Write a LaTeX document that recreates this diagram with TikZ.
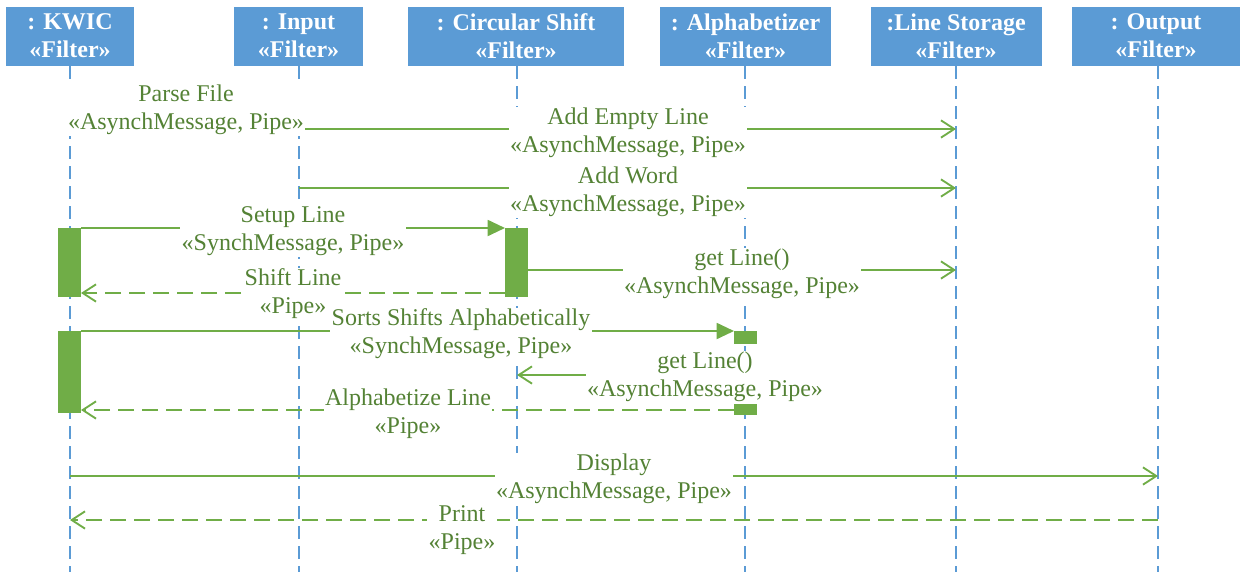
\documentclass[tikz,border=0pt]{standalone}
\usepackage{fontspec}
\setmainfont{Liberation Serif}
\usetikzlibrary{arrows.meta}

\definecolor{headblue}{HTML}{5B9BD5}
\definecolor{msggreen}{HTML}{70AD47}
\definecolor{txtgreen}{HTML}{548235}

\tikzset{
  head/.style={rectangle, fill=headblue, text=white, align=center,
    minimum height=44.25pt, inner sep=0pt, font=\bfseries\fontsize{18}{21}\selectfont},
  lifeline/.style={headblue, line width=1.1pt, dash pattern=on 10pt off 5pt},
  async/.style={msggreen, line width=1.4pt,
    -{Straight Barb[length=10pt,width=13pt,line width=1.4pt]}},
  sync/.style={msggreen, line width=1.4pt, -{Triangle[length=13pt,width=12pt]}},
  reply/.style={async, dash pattern=on 12pt off 6pt},
  msg/.style={fill=white, text=txtgreen, align=center, inner sep=1pt,
    font=\fontsize{18}{21}\selectfont},
  actbar/.style={rectangle, fill=msggreen, minimum width=17.25pt, inner sep=0pt}
}

\begin{document}
\begin{tikzpicture}[x=0.75pt,y=-0.75pt]
    \useasboundingbox (0,0) rectangle (1242,572);

    % Define lifeline heads
    \node[head, minimum width=96pt]     (kwic)   at (70,36)    {: KWIC\\«Filter»};
    \node[head, minimum width=96.75pt]  (input)  at (298.5,36) {: Input\\«Filter»};
    \node[head, minimum width=162pt]    (cshift) at (516,36)   {: Circular Shift\\«Filter»};
    \node[head, minimum width=128.25pt] (alpha)  at (745.5,36) {: Alphabetizer\\«Filter»};
    \node[head, minimum width=128.25pt] (lstore) at (956,36)   {:Line Storage\\«Filter»};
    \node[head, minimum width=126pt]    (output) at (1156,36)  {: Output\\«Filter»};

    % Draw lifelines
    \coordinate (kwicE)   at (70,572);
    \coordinate (inputE)  at (299,572);
    \coordinate (cshiftE) at (517,572);
    \coordinate (alphaE)  at (745,572);
    \coordinate (lstoreE) at (956,572);
    \coordinate (outputE) at (1158,572);
    \draw[lifeline] (70,66) -- (kwicE);
    \draw[lifeline] (299,66) -- (inputE);
    \draw[lifeline] (517,66) -- (cshiftE);
    \draw[lifeline] (745,66) -- (alphaE);
    \draw[lifeline] (956,66) -- (lstoreE);
    \draw[lifeline] (1158,66) -- (outputE);

    % Define message end points
    \coordinate (ae1) at (299,129);  \coordinate (ae2) at (956,129);
    \coordinate (aw1) at (299,188);  \coordinate (aw2) at (956,188);
    \coordinate (su1) at (81,228);   \coordinate (su2) at (505,228);
    \coordinate (gl1) at (528,270);  \coordinate (gl2) at (956,270);
    \coordinate (sl1) at (505,293);  \coordinate (sl2) at (81,293);
    \coordinate (ss1) at (81,331);   \coordinate (ss2) at (734,331);
    \coordinate (gm1) at (745,375);  \coordinate (gm2) at (517,375);
    \coordinate (al1) at (734,410);  \coordinate (al2) at (81,410);
    \coordinate (dp1) at (70,476);   \coordinate (dp2) at (1158,476);
    \coordinate (pr1) at (1158,520); \coordinate (pr2) at (70,520);

    % Draw messages
    \draw[async] (ae1) -- (ae2);
    \draw[async] (aw1) -- (aw2);
    \draw[sync]  (su1) -- (su2);
    \draw[async] (gl1) -- (gl2);
    \draw[reply] (sl1) -- (sl2);
    \draw[sync]  (ss1) -- (ss2);
    \draw[async] (gm1) -- (gm2);
    \draw[reply] (al1) -- (al2);
    \draw[async] (dp1) -- (dp2);
    \draw[reply] (pr1) -- (pr2);

    % Add message labels
    \node[msg] (parseL) at (186,110) {Parse File\\«AsynchMessage, Pipe»};
    \node[msg] (emptyL) at (628,133) {Add Empty Line\\«AsynchMessage, Pipe»};
    \node[msg] (wordL)  at (628,192) {Add Word\\«AsynchMessage, Pipe»};
    \node[msg] (setupL) at (293,231) {Setup Line\\«SynchMessage, Pipe»};
    \node[msg] (getL)   at (742,274) {get Line()\\«AsynchMessage, Pipe»};
    \node[msg] (shiftL) at (293,294) {Shift Line\\«Pipe»};
    \node[msg] (sortL)  at (461,334) {Sorts Shifts Alphabetically\\«SynchMessage, Pipe»};
    \node[msg] (getL2)  at (705,377) {get Line()\\«AsynchMessage, Pipe»};
    \node[msg] (alphL)  at (408,414) {Alphabetize Line\\«Pipe»};
    \node[msg] (dispL)  at (614,479) {Display\\«AsynchMessage, Pipe»};
    \node[msg] (printL) at (462,530) {Print\\«Pipe»};

    % Draw activation bars
    \node[actbar, minimum height=51.75pt] (kwicA)   at (69.5,262.5)  {};
    \node[actbar, minimum height=51.75pt] (cshiftA) at (516.5,262.5) {};
    \node[actbar, minimum height=61.5pt]  (kwicB)   at (69.5,372)    {};
    \node[actbar, minimum height=9.75pt]  (alphaA)  at (745.5,337.5) {};
    \node[actbar, minimum height=8.25pt]  (alphaB)  at (745.5,409.5) {};
  \end{tikzpicture}
\end{document}
